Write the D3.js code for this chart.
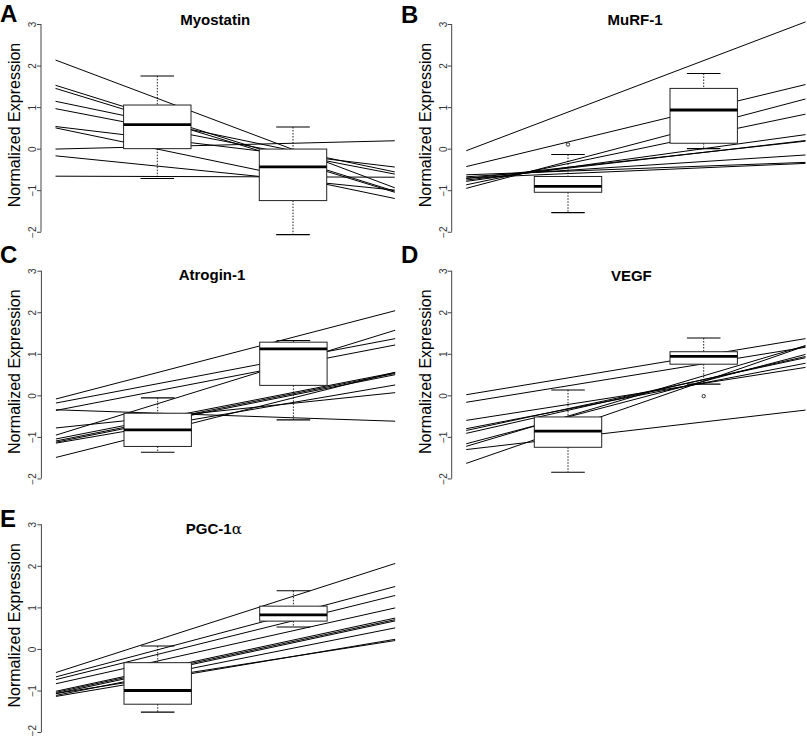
<!DOCTYPE html>
<html><head><meta charset="utf-8">
<script src="https://cdn.jsdelivr.net/npm/d3@7"></script>
<style>body{margin:0;background:#fff}svg{display:block}</style>
</head><body>
<script>
// ---- data ----
const panelLetters = ["A", "B", "C", "D", "E"];
const genes = ["Myostatin", "MuRF-1", "Atrogin-1", "VEGF", "PGC-1α"];
const groups = [1, 2];
const yTicks = [3, 2, 1, 0, -1, -2];

// per-subject values at group 1 (pre) and group 2 (post)
const myostatinPre  = [1.21, 0.76, 0.70, 0.63, 0.49, 0.24, -0.01, 0.05, -0.42, -0.67];
const myostatinPost = [-0.02, -0.26, -0.30, -0.05, -0.14, -0.15, -0.69, 0.13, -0.75, -0.68];
const murfPre  = [0.88, 0.16, -0.31, -0.36, -0.45, -0.47, -0.45, -0.52, -0.54, -0.60];
const murfPost = [2.12, 0.95, 0.55, 0.32, 0.00, -0.09, -0.09, -0.31, -0.42, -0.46];
const atroginPre  = [0.55, 0.28, -0.20, 0.11, -0.43, -0.57, -0.61, -0.64, -0.53, -0.73, -0.88];
const atroginPost = [1.40, 0.90, 0.81, 0.74, -0.54, 0.07, 0.04, 0.01, -0.19, -0.17, -0.06];
const vegfPre  = [0.42, 0.23, -0.22, -0.33, -0.32, -0.36, -0.52, -0.50, -1.02, -0.79];
const vegfPost = [0.96, 0.76, 0.29, 0.30, 0.38, 0.38, 0.34, 0.47, -0.64, 0.34];
const pgcPre  = [0.22, -0.02, -0.13, -0.29, -0.49, -0.52, -0.55, -0.63, -0.73, -0.69];
const pgcPost = [1.27, 0.85, 0.68, 0.44, 0.215, 0.18, 0.15, 0.02, -0.18, -0.18];

// box statistics per group: [lower whisker, Q1, median, Q3, upper whisker]
const myostatinBoxes = [[-0.72, 0.00, 0.58, 1.05, 1.75], [-2.07, -1.25, -0.44, -0.01, 0.52]];
const murfBoxes      = [[-1.54, -1.05, -0.91, -0.67, -0.14], [0.00, 0.13, 0.93, 1.45, 1.81]];
const atroginBoxes   = [[-1.37, -1.23, -0.83, -0.43, -0.06], [-0.59, 0.24, 1.12, 1.28, 1.32]];
const vegfBoxes      = [[-1.85, -1.25, -0.86, -0.52, 0.13], [0.27, 0.75, 0.94, 1.05, 1.38]];
const pgcBoxes       = [[-1.52, -1.33, -1.00, -0.33, 0.07], [0.53, 0.67, 0.82, 1.03, 1.40]];

// outliers per group
const myostatinOut = [[], []];
const murfOut      = [[0.10], []];
const atroginOut   = [[], []];
const vegfOut      = [[], [-0.02]];
const pgcOut       = [[], []];

const panelPre   = [myostatinPre, murfPre, atroginPre, vegfPre, pgcPre];
const panelPost  = [myostatinPost, murfPost, atroginPost, vegfPost, pgcPost];
const panelBoxes = [myostatinBoxes, murfBoxes, atroginBoxes, vegfBoxes, pgcBoxes];
const panelOut   = [myostatinOut, murfOut, atroginOut, vegfOut, pgcOut];

// ---- layout ----
const layout = [
  {c1: 157.3, y3: 24,    letterX: 0,   letterY: 21.7, titleX: 215.3, titleY: 25},
  {c1: 568,   y3: 24,    letterX: 401, letterY: 22.5, titleX: 635,   titleY: 25},
  {c1: 157.7, y3: 270.7, letterX: 0,   letterY: 263,  titleX: 212,   titleY: 280},
  {c1: 568,   y3: 270.7, letterX: 401, letterY: 263,  titleX: 631.3, titleY: 280.5},
  {c1: 157.7, y3: 524.3, letterX: 0,   letterY: 526.5, titleX: 213.8, titleY: 534}
];
const FONT = "'Liberation Sans', Arial, Helvetica, sans-serif";
const unitX = 135.7, unitY = 41.55, boxHalf = 33.7, capHalf = 16.8;

const svg = d3.select("body").append("svg").attr("width", 807).attr("height", 737)
  .style("font-family", FONT);

genes.forEach((gene, i) => {
  const L = layout[i];
  const x = d3.scaleLinear().domain([1, 2]).range([L.c1, L.c1 + unitX]);
  const y = d3.scaleLinear().domain([3, -2]).range([L.y3, L.y3 + 5 * unitY]);
  const ax = L.c1 - 116.3;
  const g = svg.append("g");

  // subject lines extended across the panel
  const pre = panelPre[i], post = panelPost[i];
  const lineData = pre.map((p, k) => ({p, q: post[k]}));
  const at = (d, xv) => d.p + (d.q - d.p) * (xv - 1);
  g.selectAll("line.subj").data(lineData).join("line").attr("class", "subj")
    .attr("x1", x(0.25)).attr("x2", x(2.75))
    .attr("y1", d => y(at(d, 0.25))).attr("y2", d => y(at(d, 2.75)))
    .attr("stroke", "#000").attr("stroke-width", 1);

  // boxplots
  const boxes = panelBoxes[i];
  groups.forEach((grp, j) => {
    const b = boxes[j], cx = x(grp);
    const bg = g.append("g");
    bg.append("line").attr("x1", cx).attr("x2", cx).attr("y1", y(b[4])).attr("y2", y(b[3]))
      .attr("stroke", "#000").attr("stroke-width", 0.9).attr("stroke-dasharray", "1.5,1.5");
    bg.append("line").attr("x1", cx).attr("x2", cx).attr("y1", y(b[1])).attr("y2", y(b[0]))
      .attr("stroke", "#000").attr("stroke-width", 0.9).attr("stroke-dasharray", "1.5,1.5");
    [b[0], b[4]].forEach(v => {
      bg.append("line").attr("x1", cx - capHalf).attr("x2", cx + capHalf)
        .attr("y1", y(v)).attr("y2", y(v)).attr("stroke", "#000").attr("stroke-width", 1.1);
    });
    bg.append("rect").attr("x", cx - boxHalf).attr("width", 2 * boxHalf)
      .attr("y", y(b[3])).attr("height", y(b[1]) - y(b[3]))
      .attr("fill", "#fff").attr("stroke", "#222").attr("stroke-width", 1);
    bg.append("line").attr("x1", cx - boxHalf).attr("x2", cx + boxHalf)
      .attr("y1", y(b[2])).attr("y2", y(b[2])).attr("stroke", "#000").attr("stroke-width", 2.8);
    bg.selectAll("circle").data(panelOut[i][j]).join("circle")
      .attr("cx", cx).attr("cy", d => y(d)).attr("r", 1.7)
      .attr("fill", "none").attr("stroke", "#000").attr("stroke-width", 0.8);
  });

  // y axis
  const axis = d3.axisLeft(y).tickValues(yTicks).tickSize(4).tickSizeOuter(0)
    .tickFormat(d => d < 0 ? "\u2212" + Math.abs(d) : String(d));
  const ag = g.append("g").attr("transform", `translate(${ax},0)`).call(axis);
  ag.select(".domain").attr("stroke", "#444").attr("d", `M0,${y(3)}V${y(-2)}`);
  ag.selectAll(".tick line").attr("stroke", "#444");
  ag.selectAll(".tick text").attr("x", null).attr("dy", null)
    .attr("text-anchor", "middle")
    .attr("transform", d => d === -2 && i === 4 ? "translate(-5,-2) rotate(-90)" : "translate(-5,0) rotate(-90)")
    .attr("fill", "#333").style("font-size", "10px").style("font-family", FONT);

  // y label
  g.append("text").attr("transform", `translate(${ax - 21},${L.y3 + 101}) rotate(-90)`)
    .attr("text-anchor", "middle").style("font-size", "16px").attr("fill", "#000")
    .text("Normalized Expression");

  // title
  const t = g.append("text").attr("x", L.titleX).attr("y", L.titleY)
    .attr("text-anchor", "middle").style("font-size", "15px").style("font-weight", "bold");
  if (gene === "PGC-1α") {
    t.append("tspan").text("PGC-1");
    t.append("tspan").style("font-weight", "normal").style("font-family", "'DejaVu Serif', serif").text("α");
  } else {
    t.text(gene);
  }

  // panel letter
  g.append("text").attr("x", L.letterX).attr("y", L.letterY)
    .style("font-size", "24px").style("font-weight", "bold").text(panelLetters[i]);
});
</script>
</body></html>
